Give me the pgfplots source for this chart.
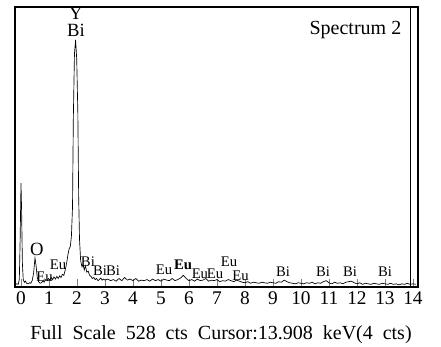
\documentclass[border=0pt]{standalone}
\usepackage{fontspec}
\setmainfont{Liberation Serif}
\usepackage{pgfplots}
\pgfplotsset{compat=1.18}
\begin{document}
\begin{tikzpicture}
\begin{axis}[
  scale only axis, width=302.25pt, height=210pt,
  xmin=-0.214, xmax=14.18, ymin=0, ymax=528,
  xtick={0,...,14}, ytick=\empty,
  xtick pos=bottom, tick align=inside, major tick length=6pt,
  /pgf/number format/assume math mode=true,
  ticklabel style={font=\fontsize{14.5}{14.5}\selectfont},
  axis line style={line width=0.8pt},
  clip=false,
]
\addplot[black, line width=0.5pt] table {
x y
-0.20 5
-0.15 6
-0.10 5
-0.06 14
-0.03 90
0.00 196
0.02 150
0.05 45
0.08 14
0.12 9
0.16 11
0.20 7
0.25 6
0.30 8
0.35 7
0.40 12
0.45 26
0.50 55
0.54 40
0.58 18
0.63 10
0.68 7
0.73 8
0.78 11
0.83 9
0.88 14
0.93 12
0.98 16
1.03 13
1.08 18
1.13 14
1.18 19
1.23 15
1.28 20
1.33 16
1.38 21
1.43 18
1.48 24
1.53 22
1.58 32
1.63 45
1.68 62
1.72 72
1.76 76
1.80 95
1.84 150
1.87 320
1.91 440
1.95 466
1.99 430
2.03 330
2.06 170
2.09 90
2.13 50
2.18 38
2.22 42
2.26 32
2.30 40
2.35 28
2.40 30
2.45 22
2.50 20
2.55 16
2.60 18
2.65 14
2.70 16
2.75 12
2.80 14
2.85 17
2.90 13
2.95 15
3.00 13
3.1 15
3.2 12
3.3 14
3.4 11
3.5 16
3.6 12
3.7 18
3.8 13
3.9 15
4.0 12
4.1 16
4.2 11
4.3 13
4.4 12
4.5 14
4.6 11
4.7 15
4.8 12
4.9 14
5.0 11
5.1 15
5.2 13
5.3 12
5.4 16
5.5 12
5.6 14
5.7 17
5.8 22
5.9 16
6.0 12
6.1 14
6.2 11
6.3 15
6.4 12
6.5 13
6.6 16
6.7 11
6.8 13
6.9 12
7.0 14
7.1 10
7.2 12
7.3 11
7.4 14
7.5 12
7.6 10
7.7 13
7.8 11
7.9 9
8.0 8
8.1 10
8.2 7
8.3 9
8.4 8
8.5 7
8.6 9
8.7 8
8.8 7
8.9 9
9.0 8
9.1 7
9.2 10
9.3 9
9.4 13
9.5 10
9.6 8
9.7 7
9.8 6
9.9 8
10.0 7
10.1 6
10.2 8
10.3 7
10.4 9
10.5 6
10.6 8
10.7 7
10.8 10
10.9 12
11.0 8
11.1 6
11.2 9
11.3 7
11.4 8
11.5 6
11.6 9
11.7 10
11.8 11
11.9 8
12.0 6
12.1 8
12.2 5
12.3 7
12.4 6
12.5 5
12.6 7
12.7 6
12.8 5
12.9 7
13.0 6
13.1 5
13.2 7
13.3 5
13.4 6
13.5 4
13.6 6
13.7 5
13.8 7
13.9 5
14.0 6
14.1 5
};
\addplot[black, line width=0.8pt] coordinates {(13.908,0) (13.908,528)};
\node[font=\fontsize{14}{14}\selectfont] at (axis cs:1.96,516) {Y};
\node[font=\fontsize{14}{14}\selectfont] at (axis cs:1.96,484) {Bi};
\node[font=\fontsize{15}{15}\selectfont, anchor=east] at (axis cs:13.75,485) {Spectrum 2};
\node[font=\fontsize{14}{14}\selectfont] at (axis cs:0.57,70) {O};
\begin{scope}[every node/.style={font=\fontsize{11}{11}\selectfont, inner sep=0pt}]
\node at (axis cs:0.84,19) {Eu};
\node at (axis cs:1.32,41) {Eu};
\node at (axis cs:2.39,47) {Bi};
\node at (axis cs:2.82,30) {Bi};
\node at (axis cs:3.29,30) {Bi};
\node at (axis cs:5.11,32) {Eu};
\node at (axis cs:5.79,41) {\textbf{Eu}};
\node at (axis cs:6.39,25) {Eu};
\node at (axis cs:6.93,25) {Eu};
\node at (axis cs:7.43,47) {Eu};
\node at (axis cs:7.84,22) {Eu};
\node at (axis cs:9.36,28) {Bi};
\node at (axis cs:10.79,28) {Bi};
\node at (axis cs:11.75,28) {Bi};
\node at (axis cs:13.0,28) {Bi};
\end{scope}
\end{axis}
\node[font=\fontsize{15}{15}\selectfont] at (154.5pt,-36pt) {\makebox[286pt][s]{Full Scale 528 cts Cursor:13.908 keV(4 cts)}};
\pgfresetboundingbox
\path (-11.25pt,-44.25pt) rectangle (319.5pt,215.25pt);
\end{tikzpicture}
\end{document}
